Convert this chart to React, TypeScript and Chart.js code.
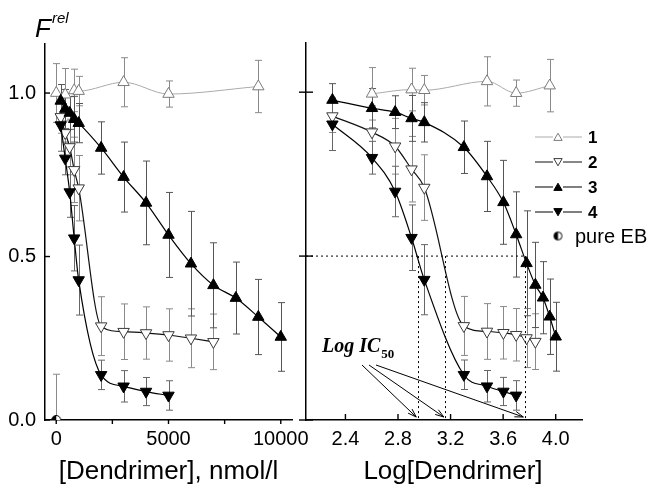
import React, { useEffect, useRef } from 'react';
import { Chart, registerables } from 'chart.js';

Chart.register(...registerables);

// ---------- data ----------
const concentration1 = [0, 400, 800, 1000, 3000, 5000, 9000];
const frel1 = [1.0, 0.995, 1.008, 1.006, 1.033, 0.997, 1.02];
const err1 = [0.09, 0.08, 0.065, 0.045, 0.075, 0.04, 0.08];

const concentration2 = [200, 400, 600, 800, 1000, 2000, 3000, 4000, 5000, 6000, 7000];
const frel2 = [0.927, 0.878, 0.835, 0.765, 0.709, 0.287, 0.27, 0.266, 0.26, 0.25, 0.239];
const err2 = [0.05, 0.08, 0.085, 0.1, 0.1, 0.09, 0.085, 0.08, 0.08, 0.09, 0.085];

const concentration3 = [200, 400, 600, 800, 1000, 2000, 3000, 4000, 5000, 6000, 7000, 8000, 9000, 10000];
const frel3 = [0.976, 0.951, 0.939, 0.92, 0.908, 0.832, 0.743, 0.664, 0.566, 0.478, 0.412, 0.373, 0.315, 0.254];
const err3 = [0.05, 0.06, 0.05, 0.07, 0.06, 0.08, 0.107, 0.128, 0.13, 0.16, 0.13, 0.11, 0.115, 0.105];

const concentration4 = [200, 400, 600, 800, 1000, 2000, 3000, 4000, 5000];
const frel4 = [0.902, 0.8, 0.697, 0.556, 0.428, 0.138, 0.103, 0.087, 0.075];
const err4 = [0.08, 0.05, 0.077, 0.1, 0.107, 0.045, 0.048, 0.043, 0.045];

const ebConcentration = [0];
const ebFrel = [0];
const ebError = [0.14];

const seriesNames = ['1', '2', '3', '4'];
const ebName = 'pure EB';

const leftXTicks = [0, 2500, 5000, 7500, 10000];
const leftXTickLabels = ['0', '', '5000', '', '10000'];
const rightXTicks = [2.4, 2.8, 3.2, 3.6, 4.0];
const rightXTickLabels = ['2.4', '2.8', '3.2', '3.6', '4.0'];
const yTicks = [0, 0.5, 1.0];
const yTickLabels = ['0.0', '0.5', '1.0'];

const logIC50 = [2.95, 3.16, 3.765];

const leftXTitle = '[Dendrimer], nmol/l';
const rightXTitle = 'Log[Dendrimer]';

// ---------- styles ----------
const SANS = "'Liberation Sans', Arial, Helvetica, sans-serif";
const SERIF = "'Liberation Serif', 'Times New Roman', serif";

const styles = [
  { line: '#ababab', lw: 1, fill: '#ffffff', border: '#7a7a7a', rot: 0, err: '#8a8a8a' },
  { line: '#111111', lw: 1.2, fill: '#ffffff', border: '#3a3a3a', rot: 180, err: '#8a8a8a' },
  { line: '#000000', lw: 1.2, fill: '#000000', border: '#000000', rot: 0, err: '#555555' },
  { line: '#000000', lw: 1.2, fill: '#000000', border: '#000000', rot: 180, err: '#666666' },
];

const concs = [concentration1, concentration2, concentration3, concentration4];
const frels = [frel1, frel2, frel3, frel4];
const errs = [err1, err2, err3, err4];

function makeHalfCircle(r: number) {
  const s = Math.ceil(r * 2 + 3);
  const c = document.createElement('canvas');
  c.width = s;
  c.height = s;
  const g = c.getContext('2d')!;
  const cx = s / 2;
  g.beginPath();
  g.arc(cx, cx, r, 0, Math.PI * 2);
  g.fillStyle = '#fff';
  g.fill();
  g.beginPath();
  g.moveTo(cx, cx);
  g.arc(cx, cx, r, Math.PI / 2, (Math.PI * 3) / 2);
  g.closePath();
  g.fillStyle = '#000';
  g.fill();
  g.beginPath();
  g.arc(cx, cx, r, 0, Math.PI * 2);
  g.strokeStyle = '#000';
  g.lineWidth = 1;
  g.stroke();
  return c;
}

function buildDatasets(useLog: boolean) {
  const sets: any[] = [];
  for (let i = 0; i < 4; i++) {
    const pts: any[] = [];
    const e: number[] = [];
    concs[i].forEach((c, j) => {
      if (useLog && c <= 0) return;
      pts.push({ x: useLog ? Math.log10(c) : c, y: frels[i][j] });
      e.push(errs[i][j]);
    });
    const st = styles[i];
    sets.push({
      label: seriesNames[i],
      data: pts,
      errors: e,
      errorColor: st.err,
      borderColor: st.line,
      borderWidth: st.lw,
      cubicInterpolationMode: 'monotone',
      pointStyle: 'triangle',
      pointRotation: st.rot,
      pointRadius: 6.6,
      pointBackgroundColor: st.fill,
      pointBorderColor: st.border,
      pointBorderWidth: 1,
      order: 4 - i,
    });
  }
  if (!useLog) {
    sets.push({
      label: ebName,
      data: ebConcentration.map((c, j) => ({ x: c, y: ebFrel[j] })),
      errors: ebError,
      errorColor: '#8a8a8a',
      showLine: false,
      pointStyle: makeHalfCircle(4.5),
      pointRadius: 5,
      order: 0,
    });
  }
  return sets;
}

// ---------- plugins ----------
const errorBarsPlugin = {
  id: 'errorBars',
  beforeDatasetsDraw(chart: any) {
    const { ctx, chartArea } = chart;
    const xs = chart.scales.x;
    const ys = chart.scales.y;
    ctx.save();
    ctx.beginPath();
    ctx.rect(chartArea.left, chartArea.top - 2, chartArea.right - chartArea.left, chartArea.bottom - chartArea.top + 2);
    ctx.clip();
    chart.data.datasets.forEach((ds: any) => {
      if (!ds.errors) return;
      ctx.strokeStyle = ds.errorColor;
      ctx.lineWidth = 1;
      ds.data.forEach((p: any, j: number) => {
        const e = ds.errors[j];
        if (!e) return;
        const x = Math.round(xs.getPixelForValue(p.x)) + 0.5;
        const y1 = ys.getPixelForValue(p.y + e);
        const y2 = ys.getPixelForValue(p.y - e);
        ctx.beginPath();
        ctx.moveTo(x, y1);
        ctx.lineTo(x, y2);
        ctx.moveTo(x - 3.5, y1);
        ctx.lineTo(x + 3.5, y1);
        ctx.moveTo(x - 3.5, y2);
        ctx.lineTo(x + 3.5, y2);
        ctx.stroke();
      });
    });
    ctx.restore();
  },
};

const tickMarksPlugin = {
  id: 'tickMarks',
  afterDraw(chart: any, _a: any, opts: any) {
    const { ctx, chartArea } = chart;
    const xs = chart.scales.x;
    const ys = chart.scales.y;
    ctx.save();
    ctx.strokeStyle = '#000';
    ctx.lineWidth = 1.4;
    (opts.x || []).forEach((m: any) => {
      const px = xs.getPixelForValue(m.v);
      ctx.beginPath();
      ctx.moveTo(px, chartArea.bottom + m.a);
      ctx.lineTo(px, chartArea.bottom + m.b);
      ctx.stroke();
    });
    (opts.y || []).forEach((m: any) => {
      const py = ys.getPixelForValue(m.v);
      ctx.beginPath();
      ctx.moveTo(chartArea.left + m.a, py);
      ctx.lineTo(chartArea.left + m.b, py);
      ctx.stroke();
    });
    ctx.restore();
  },
};

const titlesPlugin = {
  id: 'panelTitles',
  afterDraw(chart: any, _a: any, opts: any) {
    const { ctx, chartArea } = chart;
    ctx.save();
    ctx.fillStyle = '#000';
    ctx.font = `26px ${SANS}`;
    ctx.textAlign = 'center';
    ctx.textBaseline = 'alphabetic';
    ctx.fillText(opts.text, (chartArea.left + chartArea.right) / 2 + opts.dx, chartArea.bottom + 59);
    if (opts.yTitle) {
      ctx.textAlign = 'left';
      ctx.font = `italic 26px ${SANS}`;
      ctx.fillText('F', chartArea.left - 10, chartArea.top - 7);
      const w = ctx.measureText('F').width;
      ctx.font = `italic 15px ${SANS}`;
      ctx.fillText('rel', chartArea.left - 10 + w + 1, chartArea.top - 21);
    }
    ctx.restore();
  },
};

function drawArrow(ctx: CanvasRenderingContext2D, x1: number, y1: number, x2: number, y2: number) {
  const a = Math.atan2(y2 - y1, x2 - x1);
  const h = 9;
  const sp = 0.32;
  ctx.beginPath();
  ctx.moveTo(x1, y1);
  ctx.lineTo(x2, y2);
  ctx.moveTo(x2 - h * Math.cos(a - sp), y2 - h * Math.sin(a - sp));
  ctx.lineTo(x2, y2);
  ctx.lineTo(x2 - h * Math.cos(a + sp), y2 - h * Math.sin(a + sp));
  ctx.stroke();
}

function drawTri(ctx: CanvasRenderingContext2D, x: number, y: number, r: number, down: boolean, fill: string, stroke: string) {
  const s = down ? -1 : 1;
  const dx = r * Math.sin((2 * Math.PI) / 3);
  ctx.beginPath();
  ctx.moveTo(x, y - s * r);
  ctx.lineTo(x + dx, y + (s * r) / 2);
  ctx.lineTo(x - dx, y + (s * r) / 2);
  ctx.closePath();
  ctx.fillStyle = fill;
  ctx.fill();
  ctx.strokeStyle = stroke;
  ctx.lineWidth = 1;
  ctx.stroke();
}

const annotationPlugin = {
  id: 'icAnnotations',
  afterDatasetsDraw(chart: any) {
    const { ctx, chartArea } = chart;
    const xs = chart.scales.x;
    const ys = chart.scales.y;
    const yHalf = ys.getPixelForValue(0.5);
    const y0 = ys.getPixelForValue(0);
    ctx.save();
    ctx.strokeStyle = '#000';
    ctx.lineWidth = 1;
    ctx.setLineDash([2, 3]);
    ctx.beginPath();
    ctx.moveTo(chartArea.left, yHalf);
    ctx.lineTo(xs.getPixelForValue(logIC50[2]), yHalf);
    logIC50.forEach((v) => {
      const px = Math.round(xs.getPixelForValue(v)) + 0.5;
      ctx.moveTo(px, yHalf);
      ctx.lineTo(px, y0);
    });
    ctx.stroke();
    ctx.setLineDash([]);

    // label
    const tx = chartArea.left + 16;
    const ty = y0 - 68;
    ctx.fillStyle = '#000';
    ctx.textBaseline = 'alphabetic';
    ctx.textAlign = 'left';
    ctx.font = `bold italic 20px ${SERIF}`;
    ctx.fillText('Log IC', tx, ty);
    const w = ctx.measureText('Log IC').width;
    ctx.font = `bold 13px ${SERIF}`;
    ctx.fillText('50', tx + w + 1, ty + 6);

    // arrows
    ctx.lineWidth = 1;
    ctx.strokeStyle = '#000';
    logIC50.forEach((v, i) => {
      const sx = tx + 40 + i * 7;
      const sy = ty + 13;
      drawArrow(ctx, sx, sy, xs.getPixelForValue(v) - 1.5, y0 - 3);
    });
    ctx.restore();
  },
  afterDraw(chart: any) {
    const { ctx, chartArea } = chart;
    // legend
    const xm = chartArea.right - 24;
    const rows = [137, 162, 187, 212, 236];
    ctx.save();
    for (let i = 0; i < 4; i++) {
      const st = styles[i];
      const y = rows[i];
      ctx.strokeStyle = st.line;
      ctx.lineWidth = st.lw;
      ctx.beginPath();
      ctx.moveTo(xm - 23, y);
      ctx.lineTo(xm - 5, y);
      ctx.moveTo(xm + 5, y);
      ctx.lineTo(xm + 24, y);
      ctx.stroke();
      drawTri(ctx, xm, y + (st.rot ? -1 : 1), 4.8, st.rot === 180, st.fill, st.border);
      ctx.fillStyle = '#000';
      ctx.font = `bold 17px ${SANS}`;
      ctx.textBaseline = 'middle';
      ctx.textAlign = 'left';
      ctx.fillText(seriesNames[i], xm + 30, y + 1);
    }
    const eb = makeHalfCircle(4);
    ctx.drawImage(eb, xm - eb.width / 2, rows[4] - eb.height / 2);
    ctx.fillStyle = '#000';
    ctx.font = `20px ${SANS}`;
    ctx.textBaseline = 'middle';
    ctx.fillText(ebName, xm + 17, rows[4] + 1);
    ctx.restore();
  },
};

// ---------- config builders ----------
function makeConfig(opts: {
  log: boolean;
  xMin: number;
  xMax: number;
  xTicks: number[];
  xLabels: string[];
  padding: any;
  yWidth: number;
  showYLabels: boolean;
  xMarks: any[];
  yMarks: any[];
  title: string;
  titleDx: number;
  yTitle: boolean;
  extraPlugins: any[];
}) {
  return {
    type: 'line' as const,
    data: { datasets: buildDatasets(opts.log) },
    options: {
      animation: false as const,
      responsive: false,
      devicePixelRatio: 1,
      layout: { padding: opts.padding },
      scales: {
        x: {
          type: 'linear' as const,
          min: opts.xMin,
          max: opts.xMax,
          afterBuildTicks: (s: any) => {
            s.ticks = opts.xTicks.map((v) => ({ value: v }));
          },
          afterFit: (s: any) => {
            s.height = 66;
          },
          grid: { display: false, drawTicks: false },
          border: { display: true, color: '#000', width: 1.5 },
          ticks: {
            autoSkip: false,
            maxRotation: 0,
            padding: 7,
            color: '#000',
            font: { family: SANS, size: 20 },
            callback: (_v: any, i: number) => opts.xLabels[i],
          },
        },
        y: {
          type: 'linear' as const,
          min: 0,
          max: 1.15,
          afterBuildTicks: (s: any) => {
            s.ticks = yTicks.map((v) => ({ value: v }));
          },
          afterFit: (s: any) => {
            s.width = opts.yWidth;
          },
          grid: { display: false, drawTicks: false },
          border: { display: true, color: '#000', width: 1.5 },
          ticks: {
            display: opts.showYLabels,
            padding: 9,
            color: '#000',
            font: { family: SANS, size: 20 },
            callback: (_v: any, i: number) => yTickLabels[i],
          },
        },
      },
      plugins: {
        legend: { display: false },
        tooltip: { enabled: false },
        tickMarks: { x: opts.xMarks, y: opts.yMarks },
        panelTitles: { text: opts.title, dx: opts.titleDx, yTitle: opts.yTitle },
      },
    },
    plugins: [errorBarsPlugin, tickMarksPlugin, titlesPlugin, ...opts.extraPlugins],
  };
}

export default function App() {
  const leftRef = useRef<HTMLCanvasElement>(null);
  const rightRef = useRef<HTMLCanvasElement>(null);

  useEffect(() => {
    const left = new Chart(
      leftRef.current!,
      makeConfig({
        log: false,
        xMin: -500,
        xMax: 10500,
        xTicks: leftXTicks,
        xLabels: leftXTickLabels,
        padding: { left: 0, right: 358, top: 44, bottom: 0 },
        yWidth: 45,
        showYLabels: true,
        xMarks: leftXTicks.map((v) => ({ v, a: 0, b: 4 })),
        yMarks: yTicks.map((v) => ({ v, a: 0, b: 5 })),
        title: leftXTitle,
        titleDx: 0,
        yTitle: true,
        extraPlugins: [],
      }) as any
    );
    const right = new Chart(
      rightRef.current!,
      makeConfig({
        log: true,
        xMin: 2.1,
        xMax: 4.2,
        xTicks: rightXTicks,
        xLabels: rightXTickLabels,
        padding: { left: 296, right: 68, top: 43, bottom: 0 },
        yWidth: 10,
        showYLabels: false,
        xMarks: rightXTicks.map((v) => ({ v, a: 0, b: -6 })),
        yMarks: yTicks.map((v) => ({ v, a: -7, b: 7 })),
        title: rightXTitle,
        titleDx: 9,
        yTitle: false,
        extraPlugins: [annotationPlugin],
      }) as any
    );
    return () => {
      left.destroy();
      right.destroy();
    };
  }, []);

  const cs: React.CSSProperties = { position: 'absolute', left: 0, top: 0, width: 650, height: 486 };
  return (
    <div style={{ position: 'fixed', left: 0, top: 0, width: 650, height: 486, background: '#fff' }}>
      <canvas ref={leftRef} width={650} height={486} style={cs} />
      <canvas ref={rightRef} width={650} height={486} style={cs} />
    </div>
  );
}
